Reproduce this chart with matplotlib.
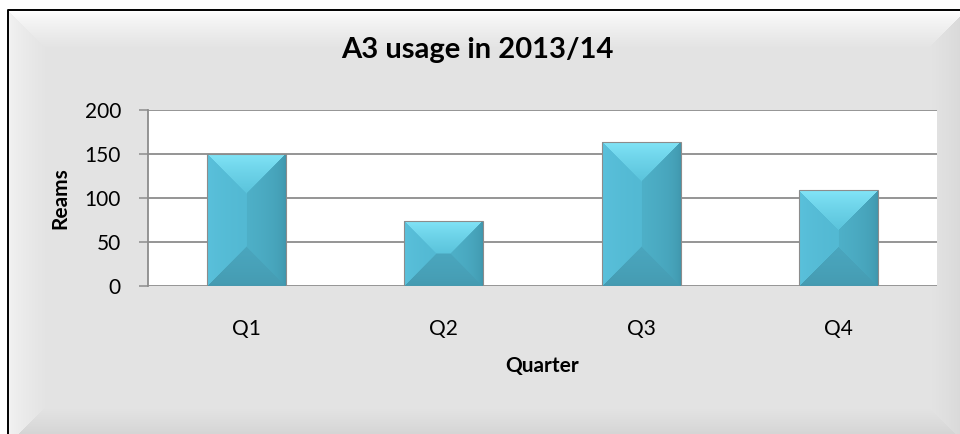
import matplotlib
matplotlib.use('Agg')
import matplotlib.pyplot as plt
import numpy as np
from matplotlib.colors import to_rgb

quarters = ['Q1', 'Q2', 'Q3', 'Q4']
reams = [150, 74, 164, 109]
y_ticks = [0, 50, 100, 150, 200]

plt.rcParams['font.family'] = ['Lato', 'DejaVu Sans']

W, H = 960, 434
fig = plt.figure(figsize=(W / 100, H / 100), dpi=100, facecolor='white')


def bevel_background():
    # grey chart area with a soft bevel round the edges
    yy, xx = np.mgrid[0:H, 0:W].astype(float)
    x0, y0, x1, y1 = 9, 11, 964, 442
    bw = 36.0
    base = 0.894
    img = np.full((H, W), base)
    d = np.stack([yy - y0, xx - x0, x1 - xx, y1 - yy])
    edge = np.argmin(d, axis=0)
    dmin = np.min(d, axis=0)
    t = np.clip(dmin / bw, 0, 1)
    edge_tone = np.array([1.0, 0.95, 0.84, 0.80])[edge]
    shade = edge_tone + (base - edge_tone) * t ** 0.7
    img = np.where(dmin < bw, shade, img)
    img[(xx < x0) | (yy < y0)] = 1.0
    rgb = np.dstack([img, img, img])
    bg = fig.add_axes([0, 0, 1, 1], zorder=-5)
    bg.imshow(rgb, extent=(0, W, H, 0), aspect='auto', interpolation='bilinear')
    bg.set_xlim(0, W)
    bg.set_ylim(H, 0)
    bg.axis('off')
    # thin black frame
    bg.plot([x0 - 1, x0 - 1, W + 5], [H + 5, y0 - 1, y0 - 1], color='black', lw=1.4)


bevel_background()

ax = fig.add_axes([148 / W, 1 - 286 / H, 789 / W, 176 / H])
ax.set_facecolor('white')
x = np.arange(len(quarters))
ax.set_xlim(-0.5, len(quarters) - 0.5)
ax.set_ylim(0, 200)

bars = ax.bar(x, reams, width=0.4, facecolor='none', edgecolor='#8c8c8c',
              linewidth=0.8, zorder=4)

# (colour at the bar edge, colour towards the middle) for each bevel face
faces = {
    0: ('#84e6f9', '#5bc4dc'),  # top
    1: ('#5cc3de', '#53b9d3'),  # left
    2: ('#3b8fa5', '#4eb0c8'),  # right
    3: ('#4499af', '#4aa6be'),  # bottom
}


def bevel_bar(patch):
    bx, bwid, bh = patch.get_x(), patch.get_width(), patch.get_height()
    p0 = ax.transData.transform((bx, 0))
    p1 = ax.transData.transform((bx + bwid, bh))
    pw = max(int(round(p1[0] - p0[0])), 2)
    ph = max(int(round(p1[1] - p0[1])), 2)
    yy, xx = np.mgrid[0:ph, 0:pw].astype(float) + 0.5
    d = np.stack([yy, xx, pw - xx, ph - yy])
    edge = np.argmin(d, axis=0)
    depth = min(pw, ph) / 2.0
    t = np.clip(np.min(d, axis=0) / depth, 0, 1)
    # side faces fade quickly, top face fades more evenly
    expo = np.array([0.8, 0.45, 0.35, 0.6])[edge]
    t = (t ** expo)[..., None]
    outer = np.array([to_rgb(faces[k][0]) for k in range(4)])[edge]
    inner = np.array([to_rgb(faces[k][1]) for k in range(4)])[edge]
    rgb = outer + (inner - outer) * t
    im = ax.imshow(rgb, extent=(bx, bx + bwid, 0, bh), aspect='auto',
                   interpolation='bilinear', zorder=3, origin='upper')
    im.set_clip_path(patch)


for b in bars:
    bevel_bar(b)

ax.set_xlim(-0.5, len(quarters) - 0.5)
ax.set_ylim(0, 200)

ax.set_yticks(y_ticks)
ax.yaxis.grid(True, color='#8c8c8c', linewidth=1.3, zorder=1)
ax.set_axisbelow(True)
ax.set_xticks(x)
ax.set_xticklabels(quarters)
ax.tick_params(axis='x', length=0, pad=24, labelsize=15)
ax.tick_params(axis='y', length=6.5, width=1.1, color='#8c8c8c', pad=13, labelsize=15)
for s in ['top', 'right', 'bottom']:
    ax.spines[s].set_visible(False)
ax.spines['left'].set_color('#8c8c8c')
ax.spines['left'].set_linewidth(1.3)

ax.set_xlabel('Quarter', fontsize=15, fontweight='bold')
ax.xaxis.set_label_coords(0.5, (286 - 366) / 176)
ax.xaxis.label.set_va('center')
ax.set_ylabel('Reams', fontsize=15, fontweight='bold')
ax.yaxis.set_label_coords((60 - 148) / 789, 0.5)
ax.yaxis.label.set_va('center')

fig.text(477 / W, 1 - 50 / H, 'A3 usage in 2013/14', ha='center', va='center',
         fontsize=21, fontweight='bold')

fig.savefig('out.png', dpi=100, facecolor='white')
